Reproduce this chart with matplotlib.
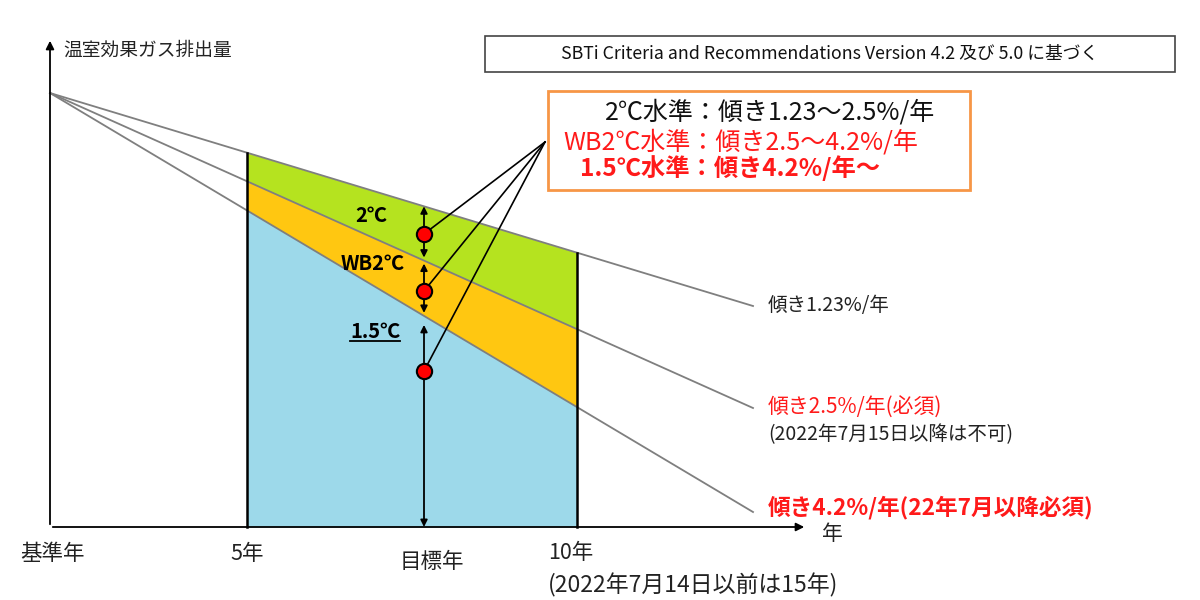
import matplotlib.pyplot as plt
import matplotlib.patches as mpatches

plt.rcParams['font.family'] = ['Noto Sans CJK JP', 'DejaVu Sans']

# schematic values (origin = base year on the x axis)
base_level = 434                       # emissions at base year
line_end_x = 703                       # where the slope lines stop
end_levels = [221, 119, 15]            # level of each slope line at line_end_x
slope_labels = ["傾き1.23%/年", "傾き2.5%/年(必須)", "傾き4.2%/年(22年7月以降必須)"]
slope_colors = ["#222222", "#ff1a1a", "#ff1a1a"]
slope_weights = ["normal", "normal", "bold"]
slope_sizes = [14, 15, 16.3]

window_start = 197                     # 5 years
window_end = 527                       # 10 years
target_x = 374                         # target year
band_colors = ["#b5e31f", "#ffc711", "#9dd9ea"]
band_labels = ["2℃", "WB2℃", "1.5℃"]
dot_levels = [293, 236, 156]

tick_x = [2, 197]
tick_labels = ["基準年", "5年"]

box_lines = ["2℃水準：傾き1.23～2.5%/年",
             "WB2℃水準：傾き2.5～4.2%/年",
             "1.5℃水準：傾き4.2%/年～"]
box_colors = ["#111111", "#ff1a1a", "#ff1a1a"]
box_weights = ["normal", "normal", "bold"]


def level(i, x):
    return base_level + (end_levels[i] - base_level) * x / line_end_x


fig = plt.figure(figsize=(12, 6), dpi=100)
ax = fig.add_axes([0, 0, 1, 1])
ax.set_xlim(-50, 1150)
ax.set_ylim(-73, 527)
ax.axis('off')

# coloured bands between the window edges
xs = [window_start, window_end]
ax.fill_between(xs, [level(0, x) for x in xs], [level(1, x) for x in xs],
                color=band_colors[0], lw=0, zorder=1)
ax.fill_between(xs, [level(1, x) for x in xs], [level(2, x) for x in xs],
                color=band_colors[1], lw=0, zorder=1)
ax.fill_between(xs, [level(2, x) for x in xs], [0, 0],
                color=band_colors[2], lw=0, zorder=1)

# slope lines
for i in range(3):
    ax.plot([0, line_end_x], [base_level, end_levels[i]], color="#7f7f7f", lw=1.3, zorder=2)
    ax.text(line_end_x + 15, end_levels[i] + (4 if i == 2 else 0), slope_labels[i],
            color=slope_colors[i], fontsize=slope_sizes[i], fontweight=slope_weights[i],
            va='center', ha='left')
ax.text(line_end_x + 15, 92, "(2022年7月15日以降は不可)", color="#222222",
        fontsize=14, va='center', ha='left')

# window edges
for x in xs:
    ax.plot([x, x], [0, level(0, x)], color="black", lw=1.8, zorder=3)

# axes with arrows
ax.annotate('', xy=(0, 489), xytext=(0, 0),
            arrowprops=dict(arrowstyle='-|>', color='black', lw=1.3, mutation_scale=12))
ax.annotate('', xy=(757, 0), xytext=(0, 0),
            arrowprops=dict(arrowstyle='-|>', color='black', lw=1.3, mutation_scale=12))
ax.text(13, 477, "温室効果ガス排出量", fontsize=13.5, va='center', ha='left', color="#222222")
ax.text(782, -7, "年", fontsize=15, va='center', ha='center', color="#222222")

# bottom labels
for x, lab in zip(tick_x, tick_labels):
    ax.text(x, -27, lab, fontsize=15.5, va='center', ha='center', color="#222222")
ax.text(382, -35, "目標年", fontsize=15.5, va='center', ha='center', color="#222222")
ax.text(498, -26, "10年", fontsize=15.5, va='center', ha='left', color="#222222")
ax.text(498, -58, "(2022年7月14日以前は15年)", fontsize=16.5, va='center', ha='left', color="#222222")

# arrows at target year
gap = 3
bounds = [level(0, target_x), level(1, target_x), level(2, target_x), 0]
for i in range(3):
    top = bounds[i] - (0 if i == 0 else gap)
    bot = bounds[i + 1] + (gap if i < 2 else 0)
    if i == 2:
        top = bounds[i] - 9
    ax.annotate('', xy=(target_x, top), xytext=(target_x, bot),
                arrowprops=dict(arrowstyle='<|-|>', color='black', lw=1.3,
                                mutation_scale=10, shrinkA=0, shrinkB=0), zorder=4)

label_pos = [(321, 311), (323, 264), (325, 195)]
for (x, y), lab in zip(label_pos, band_labels):
    ax.text(x, y, lab, fontsize=14.5, fontweight='bold', va='center', ha='center', color='black', zorder=5)

# connectors and dots
hub = (495, 385)
for y in dot_levels:
    ax.plot([target_x, hub[0]], [y, hub[1]], color='black', lw=1.2, zorder=5)
ax.plot([target_x] * 3, dot_levels, 'o', ms=11, mfc='#ff0000', mec='black', mew=1.5, zorder=6)

# legend box
ax.add_patch(mpatches.Rectangle((498, 337), 422, 99, fill=False, ec='#f79646', lw=2, zorder=5))
box_x = [555, 513, 530]
box_y = [414, 385, 359]
for x, y, s, c, w in zip(box_x, box_y, box_lines, box_colors, box_weights):
    ax.text(x, y, s, color=c, fontweight=w, fontsize=18 if w == 'normal' else 17.5,
            va='center', ha='left', zorder=6)

# source box
ax.add_patch(mpatches.Rectangle((435, 455), 690, 36, fill=False, ec='#444444', lw=1.2))
ax.text(780, 473, "SBTi Criteria and Recommendations Version 4.2 及び 5.0 に基づく",
        fontsize=12.8, va='center', ha='center', color='#111111',
        family=['Liberation Sans Narrow', 'Noto Sans CJK JP'])

# underline 1.5℃
fig.canvas.draw()
for txt in ax.texts:
    if txt.get_text() == "1.5℃":
        bb = txt.get_window_extent().transformed(ax.transData.inverted())
        ax.plot([bb.x0, bb.x1], [bb.y0 + 2, bb.y0 + 2], color='black', lw=1.3, zorder=5)

fig.savefig("out.png", dpi=100)
